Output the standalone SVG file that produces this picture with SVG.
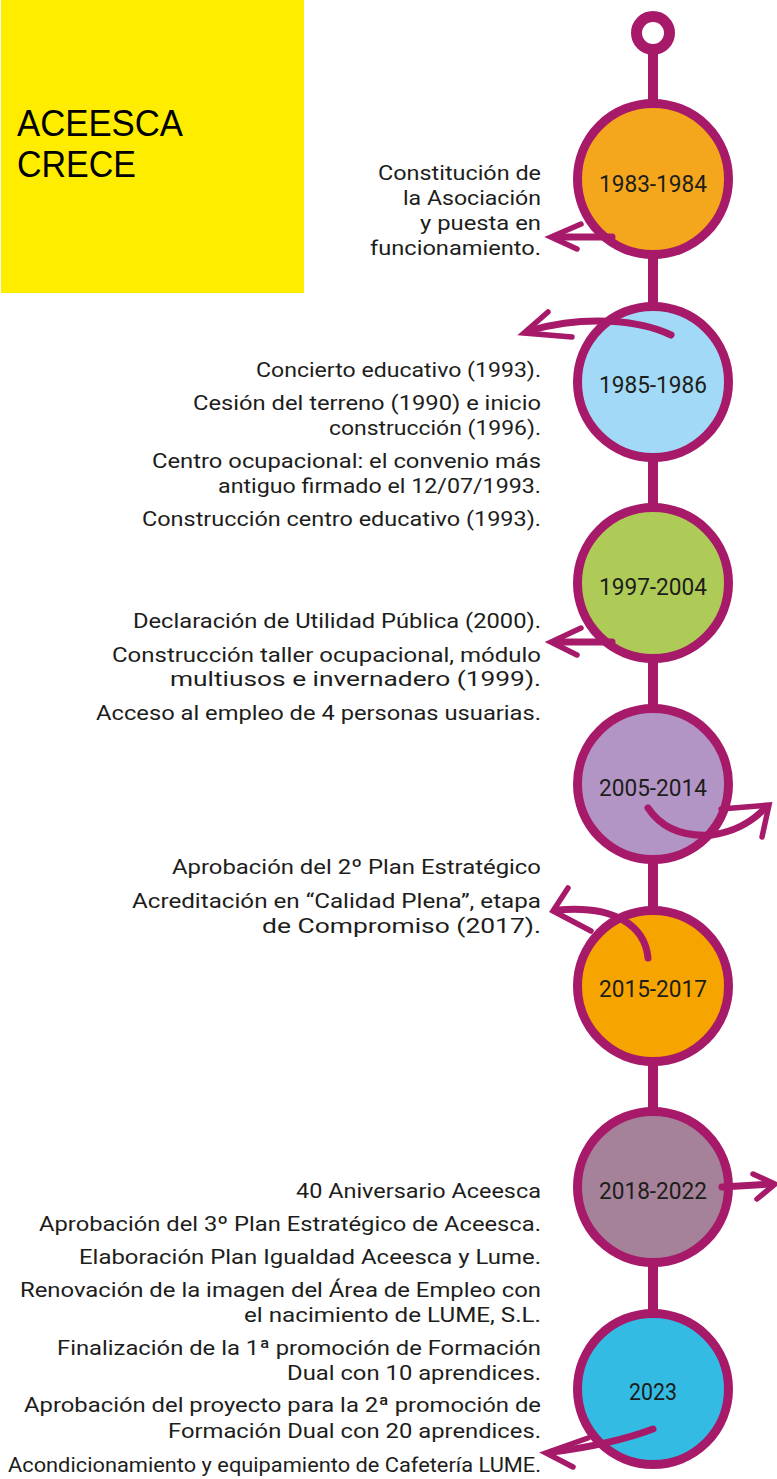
<svg xmlns="http://www.w3.org/2000/svg" width="777" height="1479" viewBox="0 0 777 1479">
<style>
.c{stroke:#A71A6A;stroke-width:9}
.yr{font-family:Roboto,"Liberation Sans",sans-serif;font-size:23px;fill:#1d1d1b;text-anchor:middle}
.t{font-family:Roboto,"Liberation Sans",sans-serif;font-size:21px;fill:#1d1d1b}
.ttl{font-family:"Liberation Sans",Arial,sans-serif;font-size:36px;fill:#000}
.ar{fill:none;stroke:#A71A6A;stroke-width:7;stroke-linecap:round;stroke-linejoin:miter}
.hd{fill:none;stroke:#A71A6A;stroke-width:5.5;stroke-linecap:round;stroke-linejoin:miter}
.sp{stroke:#A71A6A;stroke-width:10}
</style>
<rect width="777" height="1479" fill="#fff"/>
<g id="title">
<rect x="1" y="0" width="303" height="293" fill="#FFED00"/>
<text class="ttl" x="17" y="136" textLength="166" lengthAdjust="spacingAndGlyphs">ACEESCA</text>
<text class="ttl" x="17" y="177" textLength="119" lengthAdjust="spacingAndGlyphs">CRECE</text>
</g>
<g id="spine">
<line class="sp" x1="653" y1="50" x2="653" y2="1320"/>
<circle cx="653" cy="33" r="16.5" fill="#fff" stroke="#A71A6A" stroke-width="11"/>
</g>
<g id="node-1983-1984">
<circle class="c" cx="653" cy="179" r="75.5" fill="#F4A71D"/>
<text class="yr" x="653" y="192" textLength="108" lengthAdjust="spacingAndGlyphs">1983-1984</text>
</g>
<g id="node-1985-1986">
<circle class="c" cx="653" cy="382" r="75.5" fill="#A1D9F6"/>
<text class="yr" x="653" y="393" textLength="108" lengthAdjust="spacingAndGlyphs">1985-1986</text>
</g>
<g id="node-1997-2004">
<circle class="c" cx="653" cy="583" r="75.5" fill="#AFCB57"/>
<text class="yr" x="653" y="595" textLength="108" lengthAdjust="spacingAndGlyphs">1997-2004</text>
</g>
<g id="node-2005-2014">
<circle class="c" cx="653" cy="784" r="75.5" fill="#B395C5"/>
<text class="yr" x="653" y="796" textLength="108" lengthAdjust="spacingAndGlyphs">2005-2014</text>
</g>
<g id="node-2015-2017">
<circle class="c" cx="653" cy="986" r="75.5" fill="#F6A500"/>
<text class="yr" x="653" y="997" textLength="108" lengthAdjust="spacingAndGlyphs">2015-2017</text>
</g>
<g id="node-2018-2022">
<circle class="c" cx="653" cy="1187" r="75.5" fill="#A5829A"/>
<text class="yr" x="653" y="1199" textLength="108" lengthAdjust="spacingAndGlyphs">2018-2022</text>
</g>
<g id="node-2023">
<circle class="c" cx="653" cy="1389" r="75.5" fill="#33BBE4"/>
<text class="yr" x="653" y="1400" textLength="48" lengthAdjust="spacingAndGlyphs">2023</text>
</g>
<g id="connectors">
<path class="ar" d="M612,237 L555,237"/>
<path class="hd" d="M581,224 L551,237 L577,249"/>
<path class="ar" d="M671,335 C640,320 585,315 532,330"/>
<path class="hd" d="M548,312 L524,333 L572,337"/>
<path class="ar" d="M612,642 L555,642"/>
<path class="hd" d="M581,628 L551,642 L577,655"/>
<path class="ar" d="M648,808 Q668,838 712,835 Q745,830 766,807"/>
<path class="hd" d="M721,809 L769,805 L762,837"/>
<path class="ar" d="M648,958 C645,926 615,905 558,910"/>
<path class="hd" d="M568,888 L553,911 L591,931"/>
<path class="ar" d="M722,1187 L772,1184"/>
<path class="hd" d="M753,1174 L775,1184 L757,1199"/>
<path class="ar" d="M653,1429 Q610,1445 552,1452"/>
<path class="hd" d="M588,1438 L546,1453 L573,1467"/>
</g>
<g id="text-1983-1984">
<text class="t" x="378" y="180" textLength="163" lengthAdjust="spacingAndGlyphs">Constitución de</text>
<text class="t" x="403" y="205" textLength="138" lengthAdjust="spacingAndGlyphs">la Asociación</text>
<text class="t" x="420" y="230" textLength="121" lengthAdjust="spacingAndGlyphs">y puesta en</text>
<text class="t" x="370" y="255" textLength="171" lengthAdjust="spacingAndGlyphs">funcionamiento.</text>
</g>
<g id="text-1985-1986">
<text class="t" x="256" y="377" textLength="285" lengthAdjust="spacingAndGlyphs">Concierto educativo (1993).</text>
<text class="t" x="193" y="410" textLength="348" lengthAdjust="spacingAndGlyphs">Cesión del terreno (1990) e inicio</text>
<text class="t" x="329" y="435" textLength="212" lengthAdjust="spacingAndGlyphs">construcción (1996).</text>
<text class="t" x="152" y="468" textLength="389" lengthAdjust="spacingAndGlyphs">Centro ocupacional: el convenio más</text>
<text class="t" x="218" y="493" textLength="323" lengthAdjust="spacingAndGlyphs">antiguo firmado el 12/07/1993.</text>
<text class="t" x="142" y="526" textLength="399" lengthAdjust="spacingAndGlyphs">Construcción centro educativo (1993).</text>
</g>
<g id="text-1997-2004">
<text class="t" x="133" y="628" textLength="408" lengthAdjust="spacingAndGlyphs">Declaración de Utilidad Pública (2000).</text>
<text class="t" x="112" y="662" textLength="429" lengthAdjust="spacingAndGlyphs">Construcción taller ocupacional, módulo</text>
<text class="t" x="170" y="686" textLength="371" lengthAdjust="spacingAndGlyphs">multiusos e invernadero (1999).</text>
<text class="t" x="96" y="720" textLength="445" lengthAdjust="spacingAndGlyphs">Acceso al empleo de 4 personas usuarias.</text>
</g>
<g id="text-2015-2017">
<text class="t" x="172" y="874" textLength="369" lengthAdjust="spacingAndGlyphs">Aprobación del 2º Plan Estratégico</text>
<text class="t" x="132" y="908" textLength="409" lengthAdjust="spacingAndGlyphs">Acreditación en “Calidad Plena”, etapa</text>
<text class="t" x="262" y="933" textLength="279" lengthAdjust="spacingAndGlyphs">de Compromiso (2017).</text>
</g>
<g id="text-2018-2023">
<text class="t" x="296" y="1198" textLength="245" lengthAdjust="spacingAndGlyphs">40 Aniversario Aceesca</text>
<text class="t" x="39" y="1231" textLength="502" lengthAdjust="spacingAndGlyphs">Aprobación del 3º Plan Estratégico de Aceesca.</text>
<text class="t" x="79" y="1264" textLength="462" lengthAdjust="spacingAndGlyphs">Elaboración Plan Igualdad Aceesca y Lume.</text>
<text class="t" x="20" y="1297" textLength="521" lengthAdjust="spacingAndGlyphs">Renovación de la imagen del Área de Empleo con</text>
<text class="t" x="244" y="1322" textLength="297" lengthAdjust="spacingAndGlyphs">el nacimiento de LUME, S.L.</text>
<text class="t" x="57" y="1355" textLength="484" lengthAdjust="spacingAndGlyphs">Finalización de la 1ª promoción de Formación</text>
<text class="t" x="287" y="1380" textLength="254" lengthAdjust="spacingAndGlyphs">Dual con 10 aprendices.</text>
<text class="t" x="24" y="1412" textLength="517" lengthAdjust="spacingAndGlyphs">Aprobación del proyecto para la 2ª promoción de</text>
<text class="t" x="168" y="1438" textLength="373" lengthAdjust="spacingAndGlyphs">Formación Dual con 20 aprendices.</text>
<text class="t" x="8" y="1472" textLength="533" lengthAdjust="spacingAndGlyphs">Acondicionamiento y equipamiento de Cafetería LUME.</text>
</g>
</svg>
